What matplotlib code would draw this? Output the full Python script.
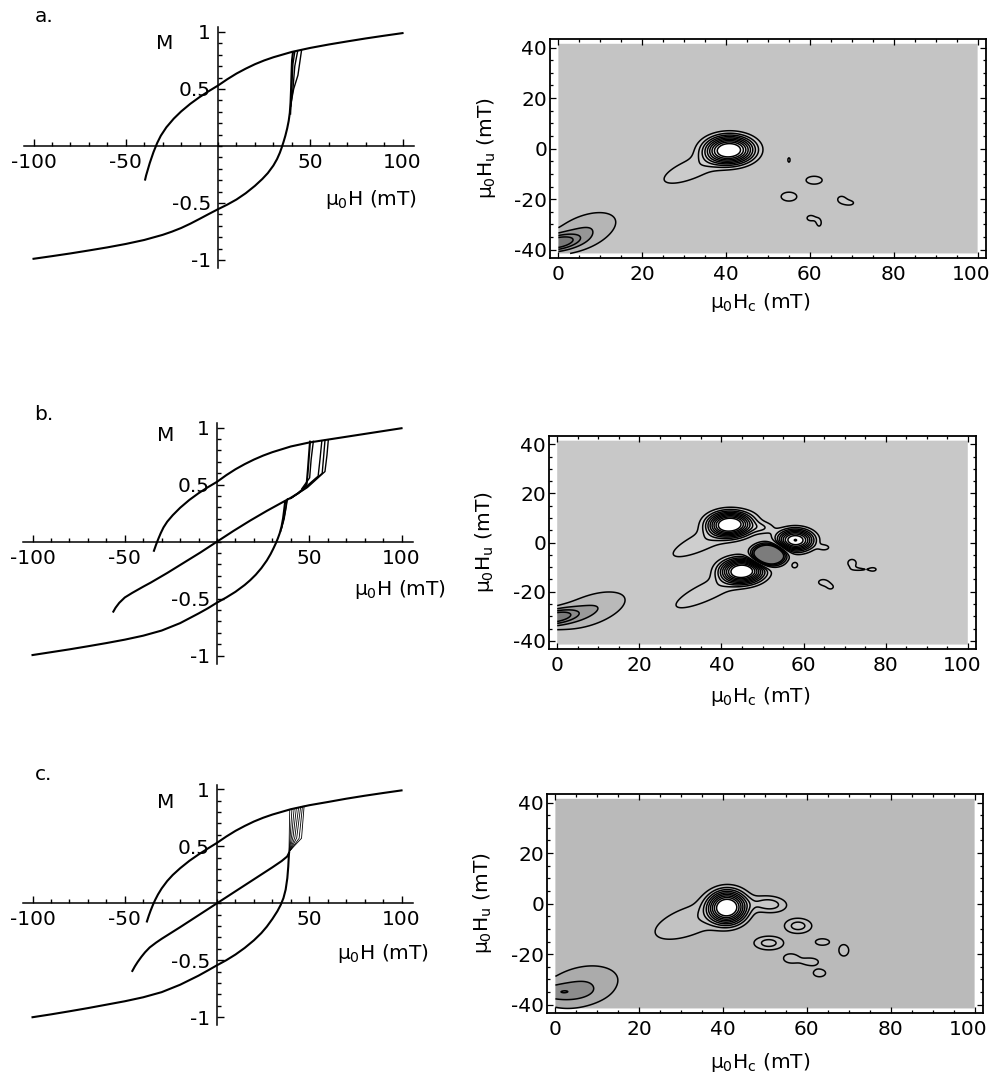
import numpy as np
import matplotlib.pyplot as plt
from matplotlib.ticker import MultipleLocator
from matplotlib.transforms import ScaledTranslation

plt.rcParams['font.family'] = ['DejaVu Sans']
plt.rcParams['axes.unicode_minus'] = False
plt.rcParams['font.size'] = 14.5
plt.rcParams['mathtext.fontset'] = 'dejavusans'
plt.rcParams['mathtext.default'] = 'regular'

FW, FH = 993, 1080

# ---------------- hysteresis loops: mu0H (mT) vs normalised M ----------------
# panel a
a_upper_h = [100, 90, 80, 70, 60, 50, 40, 30, 25, 20, 15, 10, 5, 0, -5, -10, -15, -20, -24, -28, -31, -33,
             -35, -37, -39, -39.5]
a_upper_m = [0.99, 0.967, 0.943, 0.917, 0.89, 0.86, 0.825, 0.778, 0.75, 0.717, 0.678, 0.635, 0.585, 0.53,
             0.481, 0.4285, 0.37, 0.3025, 0.2395, 0.1635, 0.09, 0.025, -0.055, -0.15, -0.26, -0.295]
a_lower_h = [-100, -90, -80, -70, -60, -50, -40, -30, -25, -20, -15, -10, -5, 0, 5, 10, 15, 20, 24, 27, 30,
             32, 33.5, 34.5, 35.5, 36.5, 37.5, 38.3, 38.9, 39.3, 39.6, 39.85, 40.1, 40.6]
a_lower_m = [-0.99, -0.967, -0.943, -0.917, -0.89, -0.86, -0.825, -0.78, -0.752, -0.72, -0.682, -0.64,
             -0.597, -0.555, -0.515, -0.47, -0.415, -0.35, -0.29, -0.238, -0.172, -0.115, -0.06, -0.015,
             0.035, 0.09, 0.155, 0.22, 0.29, 0.38, 0.5, 0.64, 0.75, 0.822]
a_forc_h = [[39.3, 39.9, 40.6, 41.6], [39.5, 40.6, 41.6, 43.2], [39.6, 41.0, 43.3, 45.3]]
a_forc_m = [[0.28, 0.50, 0.72, 0.825], [0.35, 0.50, 0.70, 0.835], [0.38, 0.50, 0.62, 0.843]]

# panel b
b_upper_h = [100, 90, 80, 70, 60, 50, 40, 30, 25, 20, 15, 10, 5, 0, -5, -10, -15, -20, -24, -27, -29,
             -30.5, -31.8, -33, -34.2]
b_upper_m = [0.995, 0.97, 0.945, 0.92, 0.895, 0.87, 0.835, 0.785, 0.755, 0.72, 0.68, 0.635, 0.583, 0.525,
             0.477, 0.425, 0.366, 0.297, 0.232, 0.175, 0.125, 0.075, 0.025, -0.025, -0.08]
b_lower_h = [-100, -90, -80, -70, -60, -50, -40, -30, -20, -10, -5, 0, 5, 10, 15, 18, 21, 24, 27, 29, 30.5,
             32, 33, 34, 35, 35.8, 36.4, 36.9]
b_lower_m = [-0.995, -0.97, -0.945, -0.918, -0.89, -0.86, -0.825, -0.78, -0.715, -0.63, -0.585, -0.535,
             -0.49, -0.44, -0.38, -0.338, -0.29, -0.233, -0.165, -0.11, -0.062, -0.01, 0.03, 0.075, 0.135,
             0.205, 0.28, 0.35]
b_middle_h = [-56.2, -55, -53, -50, -46, -40, -36, -27, -18, -9, 0, 9, 18, 27, 36, 40, 44, 46.5, 48.0,
              48.6, 49.2, 49.8, 50.4]
b_middle_m = [-0.614, -0.58, -0.537, -0.49, -0.45, -0.395, -0.36, -0.275, -0.185, -0.095, 0.0, 0.095, 0.185,
              0.27, 0.35, 0.385, 0.425, 0.46, 0.49, 0.51, 0.62, 0.75, 0.877]
b_forc_h = [[34.5, 36.4, 37.3, 37.8], [35.0, 37.0, 38.2],
            [46.0, 50.2, 51.0, 52.2], [40.0, 47.0, 54.8, 55.8, 56.8],
            [40.0, 48.0, 57.0, 57.8, 58.5], [40.0, 49.0, 58.5, 59.6, 60.3]]
b_forc_m = [[0.09, 0.20, 0.30, 0.365], [0.12, 0.26, 0.375],
            [0.465, 0.56, 0.72, 0.88], [0.38, 0.465, 0.575, 0.72, 0.884],
            [0.38, 0.47, 0.60, 0.75, 0.887], [0.38, 0.475, 0.615, 0.76, 0.89]]

# panel c
c_upper_h = [100, 90, 80, 70, 60, 50, 40, 30, 25, 20, 15, 10, 5, 0, -5, -10, -15, -20, -24, -27, -30, -32,
             -33.5, -34.5, -36, -37, -38]
c_upper_m = [0.99, 0.967, 0.943, 0.917, 0.888, 0.86, 0.825, 0.778, 0.75, 0.717, 0.678, 0.635, 0.585, 0.53,
             0.48, 0.428, 0.372, 0.307, 0.248, 0.195, 0.13, 0.077, 0.03, -0.005, -0.065, -0.11, -0.16]
c_lower_h = [-100, -90, -80, -70, -60, -50, -40, -30, -20, -10, -5, 0, 5, 10, 15, 20, 24, 27, 30, 32.7,
             34.5, 36, 37.2, 38.1, 38.6, 39]
c_lower_m = [-1.0, -0.975, -0.948, -0.92, -0.89, -0.86, -0.825, -0.78, -0.715, -0.635, -0.59, -0.544,
             -0.5, -0.45, -0.392, -0.325, -0.262, -0.205, -0.138, -0.07, -0.015, 0.045, 0.12, 0.22, 0.32,
             0.44]
c_middle_h = [-45.9, -44.5, -43, -41, -39, -36.5, -33, -30, -20, -10, 0, 10, 20, 30, 35, 38, 39]
c_middle_m = [-0.594, -0.553, -0.515, -0.47, -0.43, -0.388, -0.345, -0.312, -0.21, -0.105, 0.0, 0.105,
              0.21, 0.315, 0.37, 0.41, 0.44]
c_forc_h = [[39.0, 39.2, 39.4], [39.0, 39.8, 40.6], [39.0, 40.5, 41.8], [39.2, 41.3, 43.0],
            [39.4, 42.2, 44.2], [39.6, 43.2, 45.3], [39.8, 44.5, 46.3], [40.0, 45.8, 47.2]]
c_forc_m = [[0.44, 0.65, 0.82], [0.44, 0.62, 0.825], [0.44, 0.60, 0.83], [0.45, 0.59, 0.835],
            [0.455, 0.58, 0.84], [0.46, 0.575, 0.845], [0.465, 0.57, 0.85], [0.47, 0.57, 0.853]]

# ---------------- FORC distributions: peaks (Hc, Hu, amplitude, widths, angle, shape) ----------------
a_pk_hc = [40.8, 32.0, -1.0, 6.0, 55.0, 61.0, 55.0, 67.5, 69.5, 60.2, 62.2]
a_pk_hu = [-0.5, -8.0, -37.5, -33.0, -4.5, -12.5, -19.0, -20.0, -21.5, -27.5, -29.5]
a_pk_amp = [1.0, 0.17, -0.45, -0.2, 0.11, 0.17, 0.17, 0.13, 0.12, 0.13, 0.12]
a_pk_sa = [4.3, 8.0, 4.0, 8.0, 0.6, 1.85, 1.8, 1.05, 1.4, 1.2, 0.7]
a_pk_sb = [4.1, 3.2, 2.0, 4.6, 2.0, 1.5, 1.7, 1.4, 1.2, 1.4, 1.8]
a_pk_ang = [0, 38, 20, 45, 0, 0, 0, 0, 0, 0, 0]
a_pk_pow = [2.5, 2, 2, 2, 2, 2, 2, 2, 2, 2, 2]

b_pk_hc = [42.0, 36.0, 45.0, 37.0, 58.0, 51.5, -1.0, 8.0, 50.1, 65.1, 57.8, 71.8, 74.0, 77.0, 64.7, 66.6]
b_pk_hu = [7.5, 1.0, -11.5, -19.5, 1.0, -5.0, -30.5, -27.5, 6.0, -2.0, -9.1, -8.3, -10.9, -10.9, -16.1, -18.1]
b_pk_amp = [1.0, 0.17, 1.0, 0.17, 0.9, -1.1, -0.45, -0.2, 0.17, 0.14, 0.14, 0.15, 0.105, 0.102, 0.14, 0.11]
b_pk_sa = [3.9, 9.5, 3.9, 10.0, 3.3, 2.9, 4.0, 8.5, 2.1, 1.15, 0.9, 1.1, 2.2, 0.8, 1.2, 1.2]
b_pk_sb = [3.7, 3.0, 3.7, 3.0, 3.3, 3.1, 2.0, 4.5, 1.75, 1.0, 1.4, 1.6, 0.8, 0.8, 1.2, 1.5]
b_pk_ang = [0, 40, 0, 40, 0, 0, 20, 38, 0, 0, 0, 0, 0, 0, 0, 0]
b_pk_pow = [2.5, 2, 2.5, 2, 2.5, 2.5, 2, 2, 2, 2, 2, 2, 2, 2, 2, 2]

c_pk_hc = [41.0, 32.0, 51.0, 57.9, 63.7, 68.8, 50.9, 56.2, 60.9, 63.0, 0.0, 6.0]
c_pk_hu = [-1.5, -7.0, -0.3, -8.8, -15.2, -18.5, -15.6, -21.7, -23.0, -27.5, -35.0, -33.0]
c_pk_amp = [1.0, 0.18, 0.26, 0.25, 0.16, 0.16, 0.25, 0.16, 0.16, 0.15, -0.14, -0.2]
c_pk_sa = [3.4, 9.0, 3.0, 2.4, 1.7, 1.2, 2.6, 1.8, 1.8, 1.6, 5.0, 8.5]
c_pk_sb = [4.8, 4.5, 2.3, 2.2, 1.3, 2.3, 2.0, 1.8, 1.4, 1.6, 2.2, 6.0]
c_pk_ang = [0, 38, -10, 0, 0, 0, 0, 0, 0, 0, 0, 40]
c_pk_pow = [2.5, 2, 2, 2, 2, 2, 2, 2, 2, 2, 2, 2]

line_levels = [-0.4, -0.3, -0.2, -0.1, 0.1, 0.2, 0.3, 0.4, 0.5, 0.6, 0.7, 0.8, 0.9]
band_edges = [-10] + line_levels + [10]


fig = plt.figure(figsize=(FW / 100, FH / 100), dpi=100)


def px_axes(left, top, width, height):
    return fig.add_axes([left / FW, 1 - (top + height) / FH, width / FW, height / FH])


def loop_panel(left, top, branches, forcs, forc_lw, xlab_xy, m_xy):
    ax = px_axes(left, top, 389.3, 240.5)
    ax.set_xlim(-105, 106)
    ax.set_ylim(-1.07, 1.04)
    ax.patch.set_alpha(0)
    for s in ['top', 'right']:
        ax.spines[s].set_visible(False)
    ax.spines['left'].set_position('zero')
    ax.spines['bottom'].set_position('zero')
    for s in ['left', 'bottom']:
        ax.spines[s].set_linewidth(1.1)
    ax.set_xticks([-100, -50, 50, 100])
    ax.set_xticklabels(['-100', '-50', '50', '100'])
    ax.xaxis.set_minor_locator(MultipleLocator(10))
    ax.set_yticks([-1, -0.5, 0.5, 1])
    ax.set_yticklabels(['-1', '-0.5', '0.5', '1'])
    ax.yaxis.set_minor_locator(MultipleLocator(0.1))
    ax.tick_params(which='both', direction='in', width=1)
    ax.tick_params(which='major', length=5, pad=5)
    ax.tick_params(which='minor', length=3)
    for h, m in branches:
        ax.plot(h, m, color='k', lw=1.5, solid_joinstyle='round')
    for h, m in zip(*forcs):
        ax.plot(h, m, color='k', lw=forc_lw)
    ax.text(*xlab_xy, r'$\mu_0$H (mT)', ha='center', va='center')
    ax.text(*m_xy, 'M', ha='center', va='center')
    return ax


def forc_panel(left, top, right, bottom, pk, bg, xlab_y):
    ax = px_axes(left, top, right - left, bottom - top)
    hc = np.linspace(0, 100, 501)
    hu = np.linspace(-41.5, 41.5, 416)
    X, Y = np.meshgrid(hc, hu)
    Z = np.zeros_like(X)
    for x0, y0, amp, sa, sb, ang, p in zip(*pk):
        t = np.radians(ang)
        dx, dy = X - x0, Y - y0
        u = dx * np.cos(t) + dy * np.sin(t)
        v = -dx * np.sin(t) + dy * np.cos(t)
        r2 = (u / sa) ** 2 + (v / sb) ** 2
        Z += amp * np.exp(-0.5 * r2 ** (p / 2))
    neg = [str(bg - 0.06 * k) for k in (5, 4, 3, 1)]
    pos = [str(min(bg + (1 - bg) * k / 9, 1)) for k in range(1, 10)]
    colors = neg + [str(bg)] + pos
    ax.contourf(X, Y, Z, levels=band_edges, colors=colors, antialiased=True)
    ax.contour(X, Y, Z, levels=line_levels, colors='k', linewidths=1.1, linestyles='solid')
    ax.set_xlim(-2, 102)
    ax.set_ylim(-43.3, 43.4)
    ax.set_xticks(range(0, 101, 20))
    ax.set_yticks(range(-40, 41, 20))
    ax.xaxis.set_minor_locator(MultipleLocator(5))
    ax.yaxis.set_minor_locator(MultipleLocator(5))
    ax.tick_params(which='both', direction='in', top=True, right=True, width=0.9)
    ax.tick_params(which='major', length=4)
    ax.tick_params(axis='x', which='major', pad=5)
    ax.tick_params(axis='y', which='major', pad=2)
    ax.tick_params(which='minor', length=2)
    for s in ax.spines.values():
        s.set_linewidth(1.3)
    # keep the "100" label inside the figure edge
    last = ax.xaxis.get_major_ticks()[-1].label1
    last.set_transform(last.get_transform() + ScaledTranslation(-0.06, 0, fig.dpi_scale_trans))
    w, h = right - left, bottom - top
    ax.text((760 - left) / w, -xlab_y / h, r'$\mu_0H_c$ (mT)', transform=ax.transAxes,
            ha='center', va='center')
    ax.text(-64 / w, 0.5, r'$\mu_0H_u$ (mT)', transform=ax.transAxes,
            ha='center', va='center', rotation=90)
    return ax


loop_panel(24.3, 27.4, [(a_upper_h, a_upper_m), (a_lower_h, a_lower_m)],
           (a_forc_h, a_forc_m), 1.0, (83, -0.47), (-28.7, 0.9))
loop_panel(23.3, 423.1, [(b_upper_h, b_upper_m), (b_lower_h, b_lower_m), (b_middle_h, b_middle_m)],
           (b_forc_h, b_forc_m), 1.0, (99, -0.42), (-27.6, 0.93))
loop_panel(23.3, 784.7, [(c_upper_h, c_upper_m), (c_lower_h, c_lower_m), (c_middle_h, c_middle_m)],
           (c_forc_h, c_forc_m), 0.6, (90, -0.44), (-28, 0.88))

forc_panel(550, 39, 986, 258,
           (a_pk_hc, a_pk_hu, a_pk_amp, a_pk_sa, a_pk_sb, a_pk_ang, a_pk_pow), 0.77, 44)
forc_panel(549, 436, 976, 649,
           (b_pk_hc, b_pk_hu, b_pk_amp, b_pk_sa, b_pk_sb, b_pk_ang, b_pk_pow), 0.785, 48)
forc_panel(547, 794, 983, 1013,
           (c_pk_hc, c_pk_hu, c_pk_amp, c_pk_sa, c_pk_sb, c_pk_ang, c_pk_pow), 0.73, 50)

for lab, y in [('a.', 17), ('b.', 415), ('c.', 775)]:
    fig.text(44 / FW, 1 - y / FH, lab, ha='center', va='center')

fig.savefig('out.png', dpi=100)
